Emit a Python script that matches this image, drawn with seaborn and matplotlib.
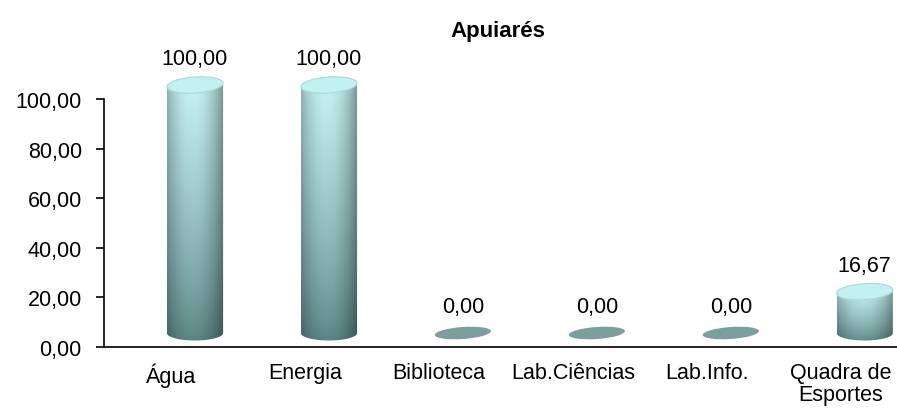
import numpy as np
import pandas as pd
import seaborn as sns
import matplotlib
matplotlib.use('Agg')
import matplotlib.pyplot as plt
from matplotlib.patches import Ellipse
from matplotlib.path import Path
from matplotlib.transforms import ScaledTranslation, IdentityTransform

# data
categorias = ['Água', 'Energia', 'Biblioteca', 'Lab.Ciências', 'Lab.Info.', 'Quadra de\nEsportes']
valores = [100.0, 100.0, 0.0, 0.0, 0.0, 16.67]
titulo = 'Apuiarés'
yticks = [0, 20, 40, 60, 80, 100]

sns.set_style('white')
plt.rcParams['font.family'] = ['Liberation Sans', 'DejaVu Sans']
plt.rcParams['text.color'] = 'black'
plt.rcParams['xtick.color'] = 'black'
plt.rcParams['ytick.color'] = 'black'

df = pd.DataFrame({'cat': categorias, 'val': valores})

fig = plt.figure(figsize=(8.97, 4.14), dpi=100)
ax = fig.add_axes([104 / 897, 66 / 414, 793 / 897, 248 / 414])

sns.barplot(data=df, x='cat', y='val', ax=ax, width=0.42, color='#8fc4c4')
ax.set_xlim(-0.5, 5.42)
ax.set_ylim(0, 100)

# fake 3d depth: shift the cylinders right and up a little
shift = ax.transData + ScaledTranslation(0.24, 0.14, fig.dpi_scale_trans)


def cyl_image():
    # vertical gradient (dark bottom -> light top) times horizontal shading
    h, w = 200, 60
    t = np.linspace(0, 1, h)[:, None]
    u = np.linspace(-1, 1, w)[None, :]
    bot = np.array([0.34, 0.50, 0.50])
    top = np.array([0.78, 0.95, 0.95])
    base = bot + (top - bot) * t[..., None] ** 0.75
    shade = 1.0 - 0.32 * np.abs(u + 0.1) ** 2.0
    img = base * shade[..., None]
    return np.clip(img[::-1], 0, 1)


def px_ellipse(xc, v, wpx, hpx, ang, **kw):
    # ellipse drawn in pixel space, centred on a (shifted) data point
    cx, cy = shift.transform((xc, v))
    e = Ellipse((cx, cy), wpx, hpx, angle=ang, transform=IdentityTransform(),
                clip_on=False, **kw)
    ax.add_artist(e)
    return e


def body_path(x0, w, v, hpx):
    # side of the cylinder with a rounded (half ellipse) bottom, pixel space
    L, B = shift.transform((x0, 0))
    R, T = shift.transform((x0 + w, v))
    a = np.linspace(np.pi, 2 * np.pi, 40)
    xs = (L + R) / 2 + (R - L) / 2 * np.cos(a)
    ys = B + hpx / 2 * np.sin(a)
    verts = [(L, T)] + list(zip(xs, ys)) + [(R, T), (L, T)]
    return Path(verts, closed=True)


img = cyl_image()

for p, v in zip(ax.patches, valores):
    x0 = p.get_x()
    w = p.get_width()
    xc = x0 + w / 2
    wpx = w * 793 / 5.92
    p.set_visible(False)
    if v == 0:
        px_ellipse(xc, 0, wpx, 12, 4, facecolor='#7b9e9e', edgecolor='none', zorder=3)
    else:
        im = ax.imshow(img, extent=(x0, x0 + w, -4, v), aspect='auto',
                       transform=shift, zorder=2.5, interpolation='bilinear')
        im.set_clip_path(body_path(x0, w, v, 15), IdentityTransform())
        im.set_clip_box(fig.bbox)  # let the cylinder rise above the axes top
        # top cap
        px_ellipse(xc, v, wpx, 16, 4, facecolor='#c3f1f1', edgecolor='#a6d8d8',
                   linewidth=0.8, zorder=3)
    lab = f'{v:.2f}'.replace('.', ',')
    ax.text(xc, v, lab, transform=shift + ScaledTranslation(0, 0.16, fig.dpi_scale_trans),
            ha='center', va='bottom', fontsize=15.5, color='black', zorder=4)

ax.set_xlim(-0.5, 5.42)
ax.set_ylim(0, 100)
ax.set_yticks(yticks)
ax.set_yticklabels([f'{t:.2f}'.replace('.', ',') for t in yticks], fontsize=15.5)
ax.set_xticks(range(len(categorias)))
ax.set_xticklabels(categorias, fontsize=15.5)
for t in ax.get_xticklabels():
    t.set_linespacing(1.05)
ax.set_xticks(np.arange(0.5, 5.0, 1.0), minor=True)
ax.tick_params(axis='x', which='major', length=0, pad=11)
ax.tick_params(axis='x', which='minor', length=6, width=1.2, direction='out', color='black')
ax.tick_params(axis='y', length=6, width=1.2, direction='out', color='black', pad=10, left=True)
ax.set_xlabel('')
ax.set_ylabel('')
sns.despine(ax=ax)
for s in ['left', 'bottom']:
    ax.spines[s].set_color('black')
    ax.spines[s].set_linewidth(1.2)
ax.set_title(titulo, fontsize=16, fontweight='bold', pad=45, x=(497.5 - 104) / 793)

fig.savefig('out.png', dpi=100)
